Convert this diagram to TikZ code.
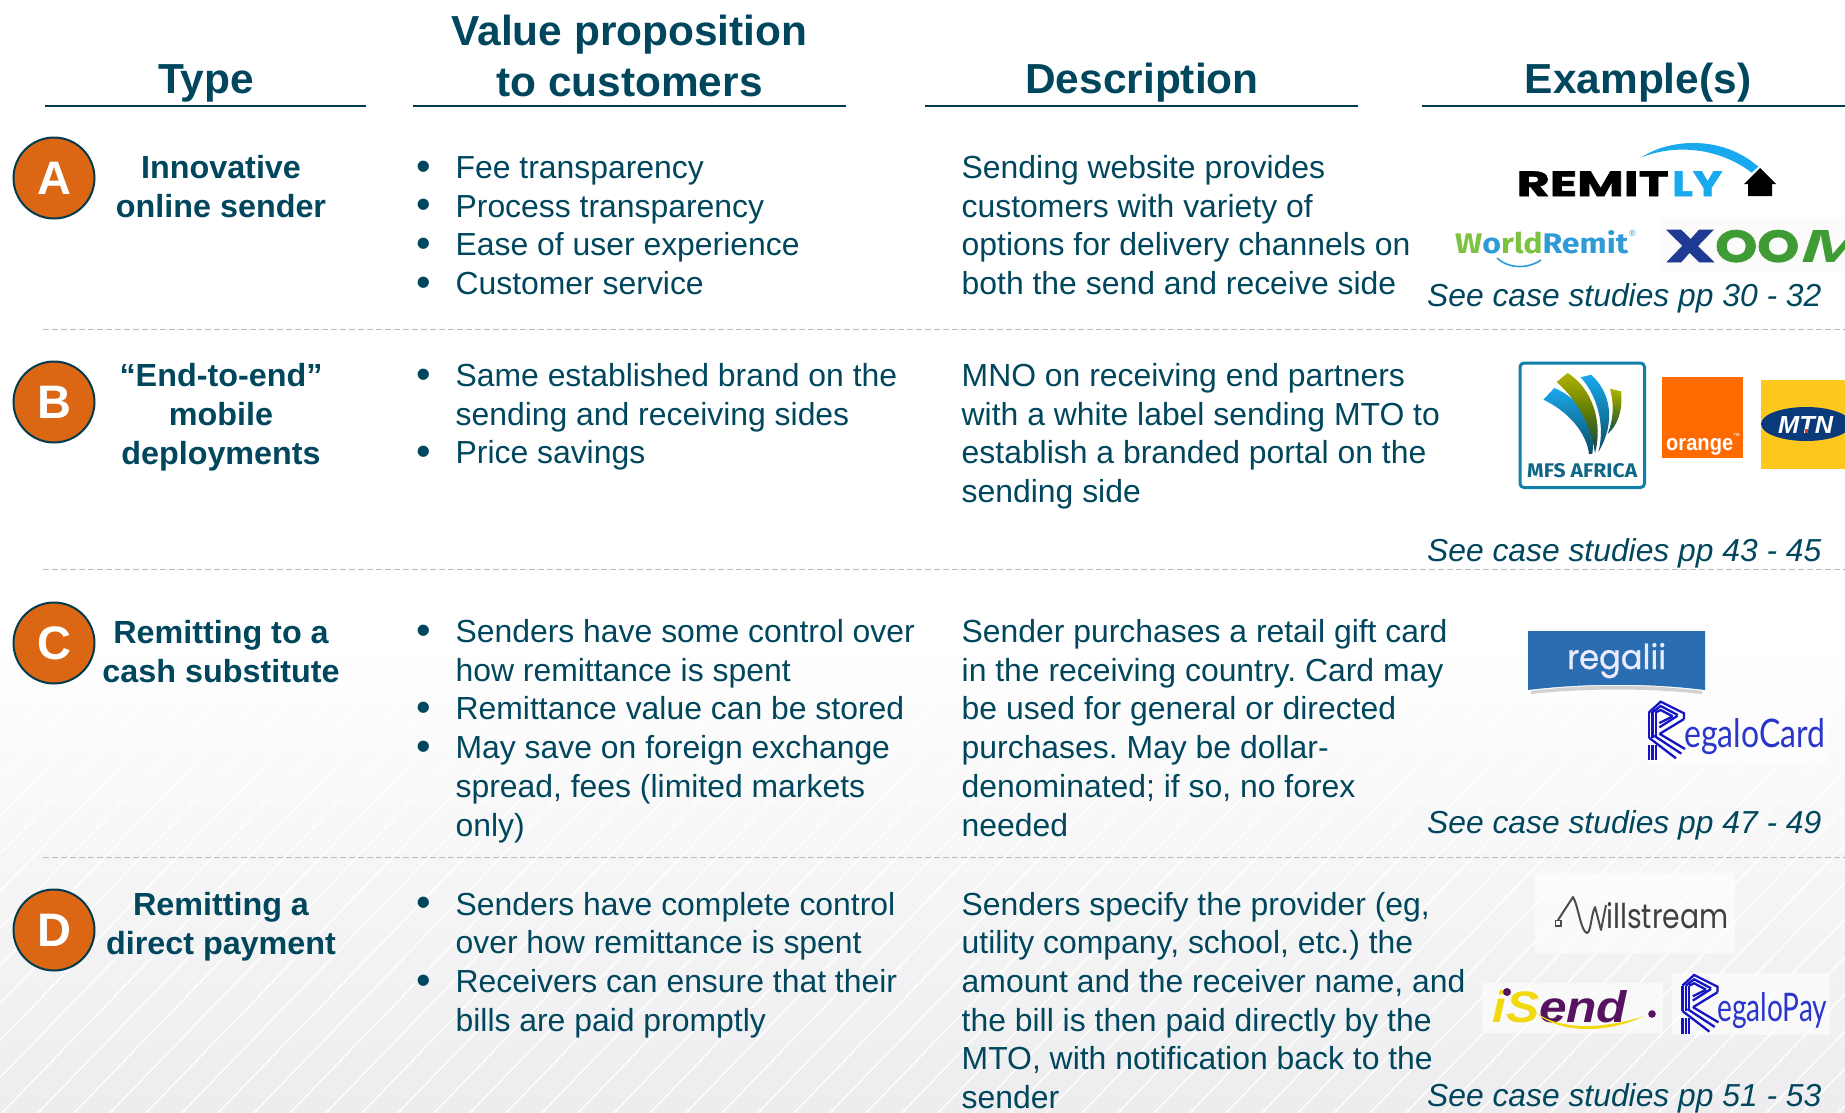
\documentclass[tikz,border=0pt]{standalone}
\usepackage{graphicx}
\usepackage{fontspec}
\setmainfont{Liberation Sans}
\newfontfamily\labfont[FakeStretch=1.01]{Liberation Sans}
\newfontfamily\popfont{Poppins}
\newfontfamily\popmed[FakeBold=0.8]{Poppins}
\newfontfamily\popheavy[BoldFeatures={FakeBold=1.5}]{Poppins}
\newfontfamily\latofont{Lato}
\newfontfamily\firafont{Fira Sans}
\definecolor{teal}{HTML}{00475E}
\definecolor{ruleteal}{HTML}{003B50}
\definecolor{badgeorange}{HTML}{DB6614}
\definecolor{regaloblue}{HTML}{2A35CC}
\definecolor{regalomarkblue}{HTML}{1414C4}
\definecolor{wrgreen}{HTML}{7DC242}
\definecolor{wrblue}{HTML}{2E9BD6}
\definecolor{remitblue}{HTML}{19A9EE}
\definecolor{xoomblue}{HTML}{1F3A93}
\definecolor{xoomgreen}{HTML}{3F9C35}
\definecolor{isendyellow}{HTML}{F2D80F}
\definecolor{isendpurple}{HTML}{561360}
\definecolor{mfsblue}{HTML}{1180A8}
\definecolor{bgbottom}{HTML}{EDECEE}
\newcommand\blocktxt[2]{\begin{tabular}[t]{@{}#1@{}}#2\end{tabular}}
\newcommand\bulletitem{\makebox[39.4pt][l]{\raisebox{-1.6pt}{\scalebox{1.3}{•}}}}
\newcommand\contitem{\hspace*{39.4pt}}
\newcommand\logotext[3]{\resizebox{#1pt}{#2pt}{#3}}
\newcommand\regalomark[2]{%
  \begin{scope}[shift={(#1,#2)},scale=1/3,line width=2.3pt,draw=regalomarkblue]
    \foreach \vx in {27,37,47}{\draw (\vx,52) -- (\vx,128); \draw (\vx,150) -- (\vx,196);}
    \draw (27,52) -- (62,20) -- (132,55) -- (132,72);
    \draw (37,52) -- (62,33) -- (113,60);
    \draw (47,52) -- (62,45) -- (98,64);
    \draw (132,72) -- (60,116);
    \draw (113,62) -- (58,97);
    \draw (98,64) -- (58,84);
    \draw (27,128) -- (108,190);
    \draw (42,122) -- (124,176);
    \draw (58,116) -- (135,162);
  \end{scope}}
\tikzset{
  hdr/.style={font=\labfont\bfseries\fontsize{42}{51}\selectfont,text=teal,inner sep=0pt,anchor=base},
  hdrrule/.style={draw=ruleteal,line width=2pt},
  divider/.style={draw=black!27,line width=1.6pt,dash pattern=on 6pt off 3pt},
  badge/.style={circle,draw=ruleteal,line width=2pt,fill=badgeorange,text=white,minimum size=81pt,inner sep=0pt,
    font=\bfseries\fontsize{47}{47}\selectfont},
  typelabel/.style={font=\labfont\bfseries\fontsize{32}{39}\selectfont,text=teal,inner sep=0pt,anchor=base},
  bodytxt/.style={font=\frenchspacing\fontsize{31.9}{38.7}\selectfont,text=teal,inner sep=0pt,anchor=base west},
  casenote/.style={font=\itshape\fontsize{31.8}{38.7}\selectfont,text=teal,inner sep=0pt,anchor=base west},
  logo/.style={inner sep=0pt,anchor=base west},
  logopatch/.style={fill=white,fill opacity=0.6},
}
\begin{document}
\begin{tikzpicture}[x=1pt,y=-1pt]
\useasboundingbox (0,0) rectangle (1845,1112);
% background
\fill[white] (0,0) rectangle (1845,1112);
\begin{scope}
  \clip (0,0) rectangle (1845,1112);
  \shade[top color=white,bottom color=bgbottom] (0,640) rectangle (1845,1112);
  \foreach \i in {-14,...,52}{
    \draw[white,line width=1.3pt] ({\i*36},1115) -- ++(478,-495);
  }
\end{scope}
% headers
\node[hdr] (hType) at (206,93) {Type};
\node[hdr] (hValue) at (629.5,45) {\blocktxt{c}{Value proposition\\to customers}};
\node[hdr] (hDesc) at (1142,93) {Description};
\node[hdr] (hEx) at (1638,93) {Example(s)};
\draw[hdrrule] (45,106) -- (366,106);
\draw[hdrrule] (413,106) -- (846,106);
\draw[hdrrule] (925,106) -- (1358,106);
\draw[hdrrule] (1422,106) -- (1845,106);
% dividers
\draw[divider] (43,329.5) -- (1845,329.5);
\draw[divider] (43,569.5) -- (1845,569.5);
\draw[divider] (43,857.5) -- (1845,857.5);
% badges
\node[badge] (bA) at (54,178) {A};
\node[badge] (bB) at (54,402) {B};
\node[badge] (bC) at (54,643) {C};
\node[badge] (bD) at (54,930) {D};
% type labels
\node[typelabel] (tA) at (221,178.5) {\blocktxt{c}{Innovative\\online sender}};
\node[typelabel] (tB) at (221,386.5) {\blocktxt{c}{“End-to-end”\\mobile\\deployments}};
\node[typelabel] (tC) at (221,643.5) {\blocktxt{c}{Remitting to a\\cash substitute}};
\node[typelabel] (tD) at (221,915.5) {\blocktxt{c}{Remitting a\\direct payment}};
% value propositions
\node[bodytxt] (vA) at (416,178.5) {\blocktxt{l}{\bulletitem Fee transparency\\\bulletitem Process transparency\\\bulletitem Ease of user experience\\\bulletitem Customer service}};
\node[bodytxt] (vB) at (416,386.5) {\blocktxt{l}{\bulletitem Same established brand on the\\\contitem sending and receiving sides\\\bulletitem Price savings}};
\node[bodytxt] (vC) at (416,642.5) {\blocktxt{l}{\bulletitem Senders have some control over\\\contitem how remittance is spent\\\bulletitem Remittance value can be stored\\\bulletitem May save on foreign exchange\\\contitem spread, fees (limited markets\\\contitem only)}};
\node[bodytxt] (vD) at (416,915) {\blocktxt{l}{\bulletitem Senders have complete control\\\contitem over how remittance is spent\\\bulletitem Receivers can ensure that their\\\contitem bills are paid promptly}};
% descriptions
\node[bodytxt] (dA) at (961.5,178.5) {\blocktxt{l}{Sending website provides\\customers with variety of\\options for delivery channels on\\both the send and receive side}};
\node[bodytxt] (dB) at (961.5,386.5) {\blocktxt{l}{MNO on receiving end partners\\with a white label sending MTO to\\establish a branded portal on the\\sending side}};
\node[bodytxt] (dC) at (961.5,642.5) {\blocktxt{l}{Sender purchases a retail gift card\\in the receiving country. Card may\\be used for general or directed\\purchases. May be dollar-\\denominated; if so, no forex\\needed}};
\node[bodytxt] (dD) at (961.5,915) {\blocktxt{l}{Senders specify the provider (eg,\\utility company, school, etc.) the\\amount and the receiver name, and\\the bill is then paid directly by the\\MTO, with notification back to the\\sender}};
% case-study notes
\node[casenote] (nA) at (1427,306) {See case studies pp 30 - 32};
\node[casenote] (nB) at (1427,561) {See case studies pp 43 - 45};
\node[casenote] (nC) at (1427,833) {See case studies pp 47 - 49};
\node[casenote] (nD) at (1427,1106) {See case studies pp 51 - 53};
% REMITLY
\node[logo] (remit) at (1516.5,196) {\logotext{152}{24.5}{\popheavy\bfseries REMIT}};
\node[logo,text=remitblue] (ly) at (1672,196) {\logotext{50}{24.5}{\popheavy\bfseries LY}};
\begin{scope}[shift={(1400,120)},scale=1/3]
  \fill[remitblue] (725,112) .. controls (800,60) and (960,40) .. (1075,140) -- (1055,158) .. controls (960,85) and (830,70) .. (725,112) -- cycle;
\end{scope}
\fill[black] (1760,168) -- (1776,184) -- (1772,184) -- (1772,196) -- (1748,196) -- (1748,184) -- (1744,184) -- cycle;
% WorldRemit
\node[logo] (wr) at (1455,253) {\logotext{173}{23}{\firafont\bfseries\color{wrgreen}W\color{wrblue}o\color{wrgreen}rld\color{wrblue}Remit}};
\node[logo,text=wrblue,font=\fontsize{9}{9}\selectfont] (wrr) at (1629,236) {®};
\draw[wrblue,line width=1.6pt] (1497,258) .. controls (1510,270) and (1530,268) .. (1541,260);
% XOOM
\fill[black!1.5] (1661,218) rectangle (1845,272);
\node[logo,text=xoomblue] (xx) at (1665,262) {\logotext{50}{32}{\popheavy\bfseries X}};
\node[logo,text=xoomgreen] (xo) at (1715,262) {\logotext{84}{32}{\popheavy\bfseries OO}};
\begin{scope}
  \clip (1790,215) rectangle (1845,275);
  \node[logo,text=xoomgreen] (xm) at (1801,262) {\logotext{66}{32}{\bfseries\itshape M}};
\end{scope}
% MFS Africa
\draw[mfsblue,line width=3pt,fill=white,rounded corners=4pt] (1520,363) rectangle (1644.5,487.5);
\begin{scope}[shift={(1515,358)},scale=1/3]
  \shade[top color=remitblue,bottom color=mfsblue!60!black] (85,125) -- (118,90) .. controls (190,120) and (245,190) .. (232,287) -- (222,288) .. controls (215,225) and (160,160) .. (85,125) -- cycle;
  \shade[top color=olive!60!yellow,bottom color=mfsblue!50!black] (125,72) -- (158,45) .. controls (230,90) and (265,190) .. (240,285) .. controls (228,200) and (185,125) .. (125,72) -- cycle;
  \shade[top color=remitblue,bottom color=mfsblue!60!black] (197,58) -- (228,50) .. controls (285,100) and (305,190) .. (250,282) .. controls (272,200) and (245,110) .. (197,58) -- cycle;
  \shade[top color=olive!60!yellow,bottom color=mfsblue!60!black] (285,92) -- (318,100) .. controls (325,160) and (305,205) .. (278,228) .. controls (292,190) and (300,150) .. (285,92) -- cycle;
\end{scope}
\node[logo,text=mfsblue!80!black] (mfs) at (1527,477) {\logotext{110}{14}{\firafont\bfseries MFS AFRICA}};
% Orange
\fill[color={rgb,255:red,255;green,106;blue,0}] (1662,377) rectangle (1743,458);
\node[logo,text=white] (orange) at (1666,450) {\logotext{67}{12}{\bfseries orange}};
\node[logo,text=white,font=\fontsize{7}{7}\selectfont] (orangetm) at (1733,438) {™};
% MTN
\fill[color={rgb,255:red,253;green,200;blue,30}] (1761,380) rectangle (1845,469);
\fill[color={rgb,255:red,10;green,58;blue,122}] (1806,424) ellipse (45 and 17);
\node[logo,text=white] (mtn) at (1778,433) {\logotext{55}{17}{\bfseries\itshape MTN}};
\fill[color={rgb,255:red,225;green,60;blue,30}] (1804.5,429) rectangle (1807.5,433);
% regalii
\fill[black!18] (1531,691) .. controls (1585,684) and (1650,684) .. (1702,691) -- (1702,694) .. controls (1650,688) and (1585,688) .. (1531,694) -- cycle;
\fill[color={rgb,255:red,42;green,109;blue,176}] (1528,631) -- (1705,631) -- (1705,690) .. controls (1650,683) and (1585,683) .. (1528,690) -- cycle;
\node[logo,text=white!92!blue] (regalii) at (1567,669) {\logotext{99}{26}{\popmed regalii}};
% RegaloCard
\fill[logopatch] (1647,697) rectangle (1827,763);
\regalomark{1640}{695}
\node[logo,text=regaloblue] (rcard) at (1684,747) {\logotext{141}{29}{\latofont egaloCard}};
% Millstream
\fill[logopatch] (1535,873) rectangle (1735,953);
\draw[black!70,line width=1.8pt] (1555.5,920.5) rectangle (1561,926);
\draw[black!70,line width=2pt,line join=round] (1558,920) -- (1573,897) .. controls (1578,905) and (1581,932) .. (1587,933) .. controls (1591,932) and (1591,915) .. (1595,907) -- (1601,930) -- (1606,905);
\node[logo,text=black!75] (mill) at (1606,928) {\logotext{122}{26}{\popfont illstream}};
% iSend
\fill[logopatch] (1482,983) rectangle (1663,1033);
\node[logo] (isend) at (1492,1022) {\logotext{135}{32}{\bfseries\itshape\color{isendyellow}iS\color{isendpurple}end}};
\fill[isendpurple] (1507,992) circle (4);
\fill[isendpurple] (1652,1014) circle (3.8);
\fill[isendyellow] (1535,1012) .. controls (1560,1030) and (1600,1030) .. (1644,1016) .. controls (1610,1033) and (1560,1035) .. (1535,1012) -- cycle;
% RegaloPay
\fill[logopatch] (1672,973) rectangle (1830,1035);
\regalomark{1673.4}{968.3}
\node[logo,text=regaloblue] (rpay) at (1717,1021) {\logotext{110}{29}{\latofont egaloPay}};
\end{tikzpicture}
\end{document}
